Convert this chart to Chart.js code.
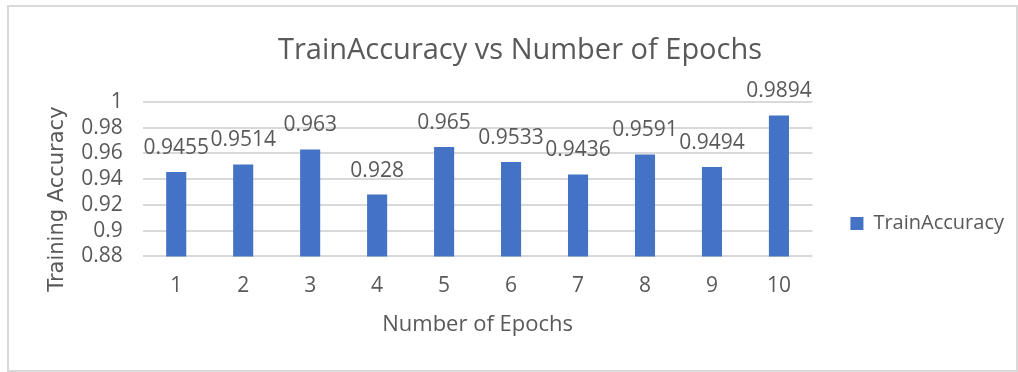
<!DOCTYPE html>
<html>
<head>
<meta charset="utf-8">
<script src="https://cdn.jsdelivr.net/npm/chart.js@4.4.1/dist/chart.umd.min.js"></script>
<style>
  html, body { margin: 0; padding: 0; background: #ffffff; }
  #wrap { position: absolute; left: 0; top: 0; width: 1018px; height: 372px; }
</style>
</head>
<body>
<div id="wrap"><canvas id="chart" width="1018" height="372"></canvas></div>
<script>
// Training accuracy recorded at the end of each epoch
const epochs = ['1', '2', '3', '4', '5', '6', '7', '8', '9', '10'];
const trainAccuracy = [0.9455, 0.9514, 0.963, 0.928, 0.965, 0.9533, 0.9436, 0.9591, 0.9494, 0.9894];
const yTicks = [0.88, 0.9, 0.92, 0.94, 0.96, 0.98, 1];

const TEXT = '#595959';
const BAR = '#4472C4';
const UI_FONT = '"Open Sans", "Noto Sans", sans-serif';

// Light frame around the whole chart
const framePlugin = {
  id: 'frame',
  beforeDraw(chart) {
    const ctx = chart.ctx;
    ctx.save();
    ctx.fillStyle = '#ffffff';
    ctx.fillRect(0, 0, chart.width, chart.height);
    ctx.strokeStyle = '#d9d9d9';
    ctx.lineWidth = 2;
    ctx.strokeRect(8, 6, chart.width - 9, chart.height - 7);
    ctx.restore();
  }
};

// Place the legend a little right of the plot and level with its lower half
const legendShift = {
  id: 'legendShift',
  afterLayout(chart) {
    const lg = chart.legend;
    if (lg) {
      lg.left += 19;
      lg.right += 19;
      lg.top += 38;
      lg.bottom += 38;
    }
  }
};

// Value printed above each bar
const valueLabels = {
  id: 'valueLabels',
  afterDatasetsDraw(chart) {
    const ctx = chart.ctx;
    const meta = chart.getDatasetMeta(0);
    const data = chart.data.datasets[0].data;
    ctx.save();
    ctx.font = '21px ' + UI_FONT;
    ctx.fillStyle = TEXT;
    ctx.textAlign = 'center';
    ctx.textBaseline = 'alphabetic';
    meta.data.forEach((bar, i) => {
      ctx.fillText(String(data[i]), bar.x, bar.y - 18);
    });
    ctx.restore();
  }
};

new Chart(document.getElementById('chart'), {
  type: 'bar',
  data: {
    labels: epochs,
    datasets: [{
      label: 'TrainAccuracy',
      data: trainAccuracy,
      backgroundColor: BAR,
      borderWidth: 0,
      barPercentage: 0.3,
      categoryPercentage: 1.0
    }]
  },
  options: {
    responsive: false,
    animation: false,
    layout: { padding: { left: 45, right: 23, top: 33, bottom: 34 } },
    plugins: {
      title: {
        display: true,
        text: 'TrainAccuracy vs Number of Epochs',
        color: TEXT,
        font: { family: UI_FONT, size: 29, weight: 'normal' },
        padding: { top: 0, bottom: 34 }
      },
      legend: {
        position: 'right',
        labels: {
          color: TEXT,
          font: { family: UI_FONT, size: 20 },
          boxWidth: 13,
          boxHeight: 13,
          padding: 19
        }
      },
      tooltip: { enabled: false }
    },
    scales: {
      x: {
        grid: { display: false, drawTicks: false },
        border: { display: false },
        ticks: { color: TEXT, font: { family: UI_FONT, size: 21 }, padding: 17 },
        title: {
          display: true,
          text: 'Number of Epochs',
          color: TEXT,
          font: { family: UI_FONT, size: 22 },
          padding: { top: -4, bottom: 0 }
        }
      },
      y: {
        min: 0.88,
        max: 1,
        afterBuildTicks(axis) {
          axis.ticks = yTicks.map(v => ({ value: v }));
        },
        grid: { color: '#d9d9d9', lineWidth: 2, drawTicks: false },
        border: { display: false },
        ticks: {
          color: TEXT,
          font: { family: UI_FONT, size: 21 },
          padding: 20,
          autoSkip: false,
          callback: v => String(Number(v.toFixed(2)))
        },
        title: {
          display: true,
          text: 'Training Accuracy      ',
          color: TEXT,
          font: { family: '"DejaVu Sans", Verdana, sans-serif', size: 21 },
          padding: { top: 0, bottom: -9 }
        }
      }
    }
  },
  plugins: [framePlugin, legendShift, valueLabels]
});
</script>
</body>
</html>
